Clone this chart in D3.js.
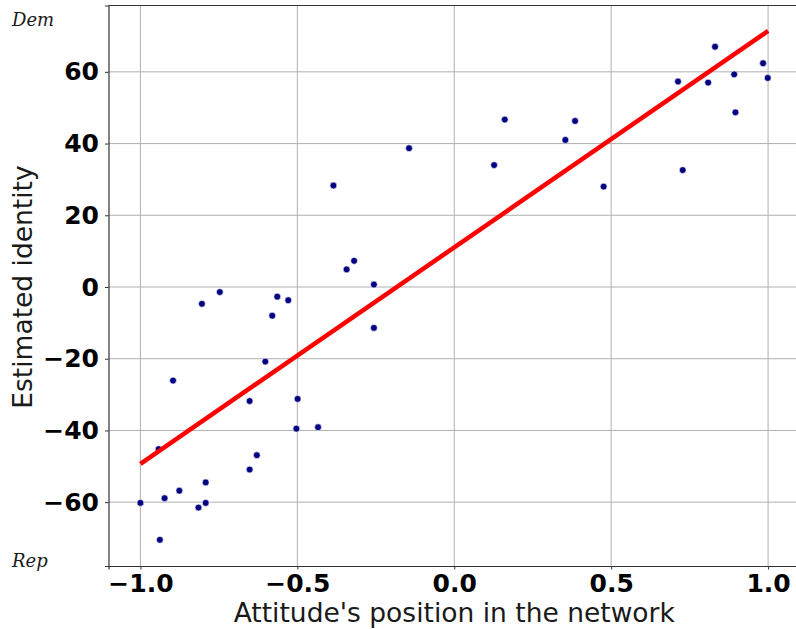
<!DOCTYPE html>
<html>
<head>
<meta charset="utf-8">
<script src="https://cdn.jsdelivr.net/npm/d3@7"></script>
<style>
  body { margin: 0; background: #fff; }
  svg { display: block; }
</style>
</head>
<body>
<div id="chart"></div>
<script>
// attitude position (x) and estimated identity (y)
const attitudeX = [
  -0.385, -0.343, -0.319, -0.256, -0.804, -0.747, -0.564, -0.529, -0.580,
  -0.256, -0.602, -0.896, -0.652, -0.499, -0.503, -0.434, -0.942, -0.629,
  -0.652, -0.792, -0.876, -0.923, -1.000, -0.792, -0.815, -0.938,
  -0.144, 0.127, 0.161, 0.354, 0.385, 0.476, 0.713, 0.728, 0.809, 0.831,
  0.892, 0.896, 0.984, 0.999
];
const identityY = [
  28.3, 4.9, 7.3, 0.7, -4.7, -1.4, -2.7, -3.7, -8.0,
  -11.4, -20.8, -26.1, -31.8, -31.2, -39.5, -39.1, -45.2, -46.9,
  -50.9, -54.5, -56.8, -58.9, -60.2, -60.2, -61.5, -70.5,
  38.7, 34.0, 46.7, 41.0, 46.3, 28.0, 57.3, 32.6, 57.0, 67.0,
  59.3, 48.7, 62.4, 58.3
];

// fitted line end points
const fitX = [-1, 1];
const fitY = [-49.3, 71.4];

const xTicks = [-1.0, -0.5, 0.0, 0.5, 1.0];
const yTicks = [-60, -40, -20, 0, 20, 40, 60];

const width = 796, height = 629;
const margin = {left: 108.5, top: 5.5, right: -4, bottom: 63};

const svg = d3.select("#chart").append("svg")
  .attr("width", width)
  .attr("height", height);

const x = d3.scaleLinear()
  .domain([-1.1017, 1.1017])
  .range([margin.left, width - margin.right]);

const y = d3.scaleLinear()
  .domain([-77.8, 78.5])
  .range([height - margin.bottom, margin.top]);

const fmtMinus = s => s.replace("-", "\u2212");

// grid
svg.append("g")
  .selectAll("line")
  .data(xTicks)
  .join("line")
  .attr("x1", d => x(d)).attr("x2", d => x(d))
  .attr("y1", margin.top).attr("y2", height - margin.bottom)
  .attr("stroke", "#b0b0b0").attr("stroke-width", 1);

svg.append("g")
  .selectAll("line")
  .data(yTicks)
  .join("line")
  .attr("x1", margin.left).attr("x2", width - margin.right)
  .attr("y1", d => y(d)).attr("y2", d => y(d))
  .attr("stroke", "#b0b0b0").attr("stroke-width", 1);

// axes
const xAxis = svg.append("g")
  .attr("transform", `translate(0,${height - margin.bottom})`)
  .call(d3.axisBottom(x).tickValues(xTicks).tickSize(3.5).tickPadding(5)
    .tickFormat(d => fmtMinus(d3.format(".1f")(d))));

const yAxis = svg.append("g")
  .attr("transform", `translate(${margin.left},0)`)
  .call(d3.axisLeft(y).tickValues(yTicks).tickSize(3.5).tickPadding(6)
    .tickFormat(d => fmtMinus(d3.format("d")(d))));

[xAxis, yAxis].forEach(g => {
  g.select(".domain").attr("stroke", "#333").attr("stroke-width", 1.2);
  g.selectAll(".tick line").attr("stroke", "#333");
  g.selectAll(".tick text")
    .attr("fill", "#000")
    .style("font-family", "'DejaVu Sans', sans-serif")
    .style("font-weight", "bold")
    .style("font-size", "25px");
});

// top spine
svg.append("line")
  .attr("x1", margin.left).attr("x2", width - margin.right)
  .attr("y1", margin.top).attr("y2", margin.top)
  .attr("stroke", "#333").attr("stroke-width", 1.2);

// points
svg.append("g")
  .selectAll("circle")
  .data(attitudeX.map((d, i) => [d, identityY[i]]))
  .join("circle")
  .attr("cx", d => x(d[0]))
  .attr("cy", d => y(d[1]))
  .attr("r", 3.4)
  .attr("fill", "#000080")
  .attr("stroke", "#fff")
  .attr("stroke-width", 0.6);

// fitted line
svg.append("path")
  .datum(fitX.map((d, i) => [d, fitY[i]]))
  .attr("d", d3.line().x(d => x(d[0])).y(d => y(d[1])))
  .attr("stroke", "#ff0000")
  .attr("stroke-width", 4.5)
  .attr("fill", "none");

// axis titles
svg.append("text")
  .attr("x", x(0))
  .attr("y", 622)
  .attr("text-anchor", "middle")
  .style("font-family", "'DejaVu Sans', sans-serif")
  .style("font-size", "26.5px")
  .attr("fill", "#1a1a1a")
  .text("Attitude's position in the network");

svg.append("text")
  .attr("transform", `translate(32,${y(0)}) rotate(-90)`)
  .attr("text-anchor", "middle")
  .style("font-family", "'DejaVu Sans', sans-serif")
  .style("font-size", "26.5px")
  .attr("fill", "#1a1a1a")
  .text("Estimated identity");

// Dem / Rep labels
svg.append("text")
  .attr("x", 12).attr("y", 25.7)
  .style("font-family", "'DejaVu Serif', serif")
  .style("font-style", "italic")
  .style("font-size", "18px")
  .attr("fill", "#1a1a1a")
  .text("Dem");

svg.append("text")
  .attr("x", 12).attr("y", 566.5)
  .style("font-family", "'DejaVu Serif', serif")
  .style("font-style", "italic")
  .style("font-size", "18px")
  .attr("fill", "#1a1a1a")
  .text("Rep");
</script>
</body>
</html>
